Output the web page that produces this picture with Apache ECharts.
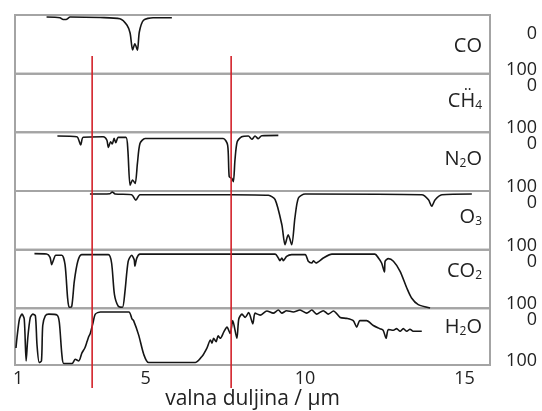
<!DOCTYPE html>
<html>
<head>
<meta charset="utf-8">
<script src="https://cdn.jsdelivr.net/npm/echarts@6/dist/echarts.min.js"></script>
<style>
  html, body { margin: 0; padding: 0; background: #fff; }
  #chart { width: 542px; height: 411px; }
</style>
</head>
<body>
<div id="chart"></div>
<script>
// wavelength (µm) vs absorption (%), one panel per gas, 0 at top
const co = [
  [1.89, 3.4], [2.31, 4.6], [2.41, 7.7], [2.5, 7.7], [2.63, 3.4], [3.57, 4.3],
  [4.19, 6.3], [4.41, 17], [4.51, 30.7], [4.59, 59.7], [4.66, 49], [4.74, 60],
  [4.8, 29], [4.93, 9], [5.23, 4.6], [5.82, 4.6],
];
const ch4 = [];
const n2o = [
  [2.23, 6.3], [2.84, 7.5], [2.96, 21.6], [3.04, 8.5], [3.67, 7.5], [3.78, 13.1],
  [3.83, 25.6], [3.9, 16], [3.95, 19.9], [4.01, 10.2], [4.06, 17.7], [4.14, 8.5],
  [4.38, 8.5], [4.44, 30.2], [4.51, 90], [4.59, 81.4], [4.67, 87.1], [4.74, 53],
  [4.82, 18.9], [4.98, 10.4], [7.43, 10.4], [7.57, 21.6], [7.62, 75.7], [7.7, 78.4],
  [7.75, 84.2], [7.8, 47.2], [7.87, 16], [8.01, 7.5], [8.22, 6.3], [8.33, 11.9],
  [8.43, 6.3], [8.53, 10.9], [8.64, 5.8], [9.16, 5.1],
];
const o3 = [
  [3.25, 5.1], [3.88, 4.6], [3.95, 1.7], [4.04, 5.1], [4.56, 6.3], [4.69, 15.8],
  [4.82, 6.3], [5.61, 6.3], [7.7, 6.3], [8.85, 7.3], [9.06, 14.8], [9.27, 57.4],
  [9.37, 91.5], [9.47, 74.5], [9.58, 91.5], [9.68, 46], [9.79, 11.9], [10.0, 5.1],
  [13.66, 6.3], [13.87, 14.8], [13.97, 26.1], [14.08, 14.8], [14.29, 6.3], [15.23, 5.1],
];
const co2 = [
  [1.51, 6.8], [1.89, 7.3], [2.0, 13], [2.05, 25.6], [2.1, 18.7], [2.18, 9.5],
  [2.37, 9.5], [2.47, 25.6], [2.55, 82.3], [2.6, 98.2], [2.68, 96.5], [2.76, 53.9],
  [2.87, 19.8], [2.99, 8.5], [3.83, 8.5], [3.93, 22.7], [4.02, 76.7], [4.14, 96.5],
  [4.27, 98.2], [4.35, 70.9], [4.45, 19.8], [4.56, 9.5], [4.64, 17], [4.66, 28.3],
  [4.72, 14.3], [4.82, 7.5], [9.06, 7.5], [9.16, 14.3], [9.21, 18.9], [9.27, 14.3],
  [9.32, 18.9], [9.42, 11.4], [9.58, 8.5], [10.0, 8.5], [10.1, 19.8], [10.21, 22.7],
  [10.26, 18.9], [10.34, 22.7], [10.57, 14.3], [10.84, 7.5], [12.19, 7.5], [12.3, 14.3],
  [12.4, 22.7], [12.49, 38], [12.51, 19.8], [12.61, 15.3], [12.77, 19.8], [12.98, 36.8],
  [13.19, 65.3], [13.34, 82.3], [13.55, 93.7], [13.92, 99.4],
];
const h2o = [
  [0.93, 69.9], [0.96, 52.8], [1.04, 18.7], [1.12, 10.2], [1.19, 18.7], [1.25, 92.7],
  [1.3, 52.8], [1.38, 16], [1.46, 10.2], [1.54, 13.1], [1.59, 64.2], [1.66, 95.4],
  [1.73, 92.7], [1.77, 30.2], [1.85, 13.1], [1.96, 10.2], [2.22, 11.9], [2.29, 24.5],
  [2.37, 81.3], [2.43, 97.1], [2.69, 97.1], [2.79, 89.8], [2.9, 92.7], [3.0, 78.4],
  [3.09, 69.9], [3.16, 58.6], [3.21, 50.1], [3.26, 44.3], [3.34, 27.3], [3.42, 10.2],
  [3.58, 6.3], [4.47, 6.3], [4.57, 18.7], [4.62, 21.6], [4.78, 47.2], [4.94, 81.3],
  [5.09, 95.4], [6.56, 95.4], [6.77, 84.2], [6.92, 69.9], [7.03, 55.7], [7.08, 61.4],
  [7.13, 52.8], [7.21, 58.6], [7.27, 48.4], [7.34, 52.8], [7.45, 41.6], [7.55, 33],
  [7.65, 44.3], [7.73, 21.6], [7.86, 52.8], [7.92, 18.7], [8.02, 10.2], [8.12, 16],
  [8.23, 7.5], [8.36, 27.3], [8.43, 8.5], [8.59, 11.9], [8.8, 4.6], [9.0, 8.5],
  [9.16, 2.9], [9.27, 8.5], [9.42, 4.1], [9.63, 6.3], [9.84, 2.9], [10.05, 8.5],
  [10.21, 2.9], [10.36, 10.2], [10.57, 4.1], [10.73, 10.2], [10.89, 4.6], [11.1, 16],
  [11.31, 17.7], [11.51, 21.6], [11.62, 33], [11.72, 21.6], [11.93, 21.6], [12.14, 30.2],
  [12.35, 35.8], [12.45, 38.7], [12.54, 52.8], [12.61, 37.2], [12.77, 38.7], [12.87, 35.8],
  [12.98, 40.4], [13.08, 35.8], [13.19, 40.4], [13.29, 36.8], [13.39, 40.4], [13.66, 40.4],
];

const panels = [co, ch4, n2o, o3, co2, h2o];
const gasLabels = [
  '{n|CO}',
  '{n|CḦ}{s|4}',
  '{n|N}{s|2}{n|O}',
  '{n|O}{s|3}',
  '{n|CO}{s|2}',
  '{n|H}{s|2}{n|O}',
];
const xTicks = [1, 5, 10, 15];
const yTicks = [0, 100];
const redLines = [3.32, 7.68];

const X_MIN = 0.9;
const X_MAX = 15.8;
const FONT = '"Open Sans", Lato, sans-serif';
const TOP = 15;
const PANEL_H = 58.67;
const LEFT = 15;
const RIGHT = 52;

const chart = echarts.init(document.getElementById('chart'), null, { renderer: 'canvas' });

const grids = [];
const xAxes = [];
const yAxes = [];
const series = [];
const graphics = [];

panels.forEach((data, i) => {
  const last = i === panels.length - 1;
  grids.push({
    left: LEFT,
    right: RIGHT,
    top: TOP + i * PANEL_H,
    height: PANEL_H,
    show: true,
    borderColor: '#a4a4a4',
    borderWidth: 2,
  });
  xAxes.push({
    type: 'value',
    gridIndex: i,
    min: X_MIN,
    max: X_MAX,
    axisLine: { show: false },
    axisTick: { show: false },
    splitLine: { show: false },
    axisLabel: last
      ? { customValues: xTicks, fontSize: 18, color: '#222', fontFamily: FONT, margin: 5 }
      : { show: false },
    name: last ? 'valna duljina / µm' : '',
    nameLocation: 'middle',
    nameGap: 23,
    nameTextStyle: { fontSize: 21, color: '#222', fontFamily: FONT },
  });
  yAxes.push({
    type: 'value',
    gridIndex: i,
    position: 'right',
    inverse: true,
    min: 0,
    max: 100,
    axisLine: { show: false },
    axisTick: { show: false },
    splitLine: { show: false },
    axisLabel: {
      customValues: yTicks,
      align: 'right',
      margin: 47,
      fontSize: 18,
      color: '#222',
      fontFamily: FONT,
      formatter: v => (v === 0 ? '{z|0}' : '{h|100}'),
      rich: {
        z: { fontSize: 18, color: '#222', fontFamily: FONT, padding: [i === 0 ? 38 : 24, 0, 0, 0] },
        h: { fontSize: 18, color: '#222', fontFamily: FONT, padding: [0, 0, 8, 0] },
      },
    },
  });
  series.push({
    type: 'line',
    xAxisIndex: i,
    yAxisIndex: i,
    data,
    showSymbol: false,
    smooth: 0.25,
    lineStyle: { color: '#151515', width: 1.6 },
    z: 3,
  });
});

// overlay grid for the two red markers, which run past the plot bottom
const ov = panels.length;
grids.push({ left: LEFT, right: RIGHT, top: 56, bottom: 23 });
xAxes.push({ type: 'value', gridIndex: ov, min: X_MIN, max: X_MAX, show: false });
yAxes.push({ type: 'value', gridIndex: ov, min: 0, max: 1, show: false });
redLines.forEach(x => {
  series.push({
    type: 'line',
    xAxisIndex: ov,
    yAxisIndex: ov,
    data: [[x, 0], [x, 1]],
    showSymbol: false,
    lineStyle: { color: '#d3222a', width: 1.6 },
    z: 5,
  });
});

const labelY = [47, 102, 160, 218, 272, 328];
gasLabels.forEach((text, i) => {
  graphics.push({
    type: 'text',
    right: 60,
    top: labelY[i] - 11,
    style: {
      text,
      fill: '#222',
      font: '20px ' + FONT,
      rich: {
        n: { fontSize: 20, fontFamily: FONT, fill: '#222' },
        s: { fontSize: 12, fontFamily: FONT, fill: '#222', padding: [10, 0, 0, 0] },
      },
    },
  });
});

chart.setOption({
  animation: false,
  grid: grids,
  xAxis: xAxes,
  yAxis: yAxes,
  series,
  graphic: graphics,
});
</script>
</body>
</html>
